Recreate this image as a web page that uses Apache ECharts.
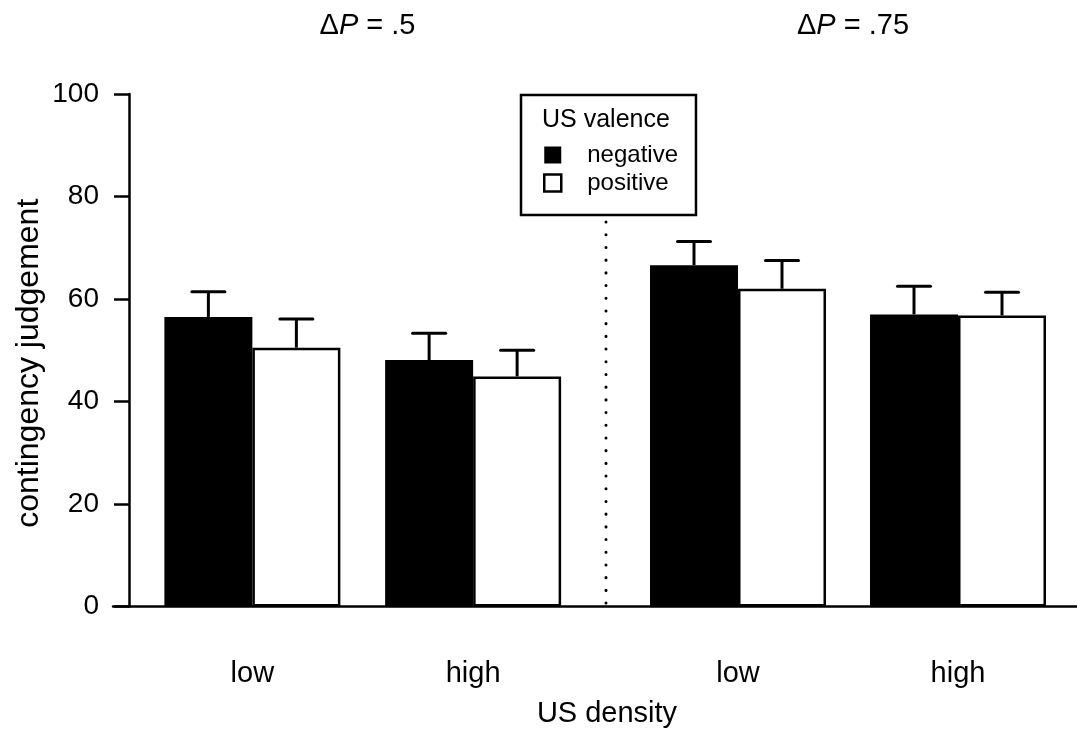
<!DOCTYPE html>
<html>
<head>
<meta charset="utf-8">
<script src="https://cdn.jsdelivr.net/npm/echarts@6/dist/echarts.min.js"></script>
<style>
html,body{margin:0;padding:0;background:#fff;}
#chart{width:1077px;height:729px;}
</style>
</head>
<body>
<div id="chart"></div>
<script>
// ---- data ----
const panelLabels = ['.5', '.75'];               // ΔP values
const densities = ['low', 'high'];                // US density
const valenceNames = ['negative', 'positive'];    // US valence
// order: [ΔP=.5 low, ΔP=.5 high, ΔP=.75 low, ΔP=.75 high]
const negativeMean  = [56.5, 48.1, 66.6, 57.0];
const negativeUpper = [61.4, 53.3, 71.2, 62.5];
const positiveMean  = [50.5, 44.9, 62.0, 56.8];
const positiveUpper = [56.1, 50.0, 67.5, 61.3];
const yMin = 0, yMax = 100, yStep = 20;

// ---- style ----
const FONT = 'Liberation Sans, Arial, Helvetica, sans-serif';
const BAR_W = 88;
const LW = 2.5;

const chart = echarts.init(document.getElementById('chart'), null, {renderer: 'canvas'});

function errorSeries(gridIdx, upper, mean, side) {
  return {
    type: 'custom',
    xAxisIndex: gridIdx, yAxisIndex: gridIdx,
    z: 5,
    silent: true,
    data: upper.map((u, i) => [i, u, mean[i]]),
    renderItem: function (params, api) {
      const cat = api.value(0);
      const top = api.coord([cat, api.value(1)]);
      const base = api.coord([cat, api.value(2)]);
      const x = top[0] + side * BAR_W / 2;
      const cap = 16.5;
      return {
        type: 'group',
        children: [
          {type: 'line', shape: {x1: x, y1: base[1], x2: x, y2: top[1]},
           style: {stroke: '#000', lineWidth: 3}},
          {type: 'line', shape: {x1: x - cap, y1: top[1], x2: x + cap, y2: top[1]},
           style: {stroke: '#000', lineWidth: 3, lineCap: 'round'}}
        ]
      };
    }
  };
}

const grids = [
  {left: 142, width: 441.5, top: 94, height: 512.5},
  {left: 628, width: 440, top: 94, height: 512.5},
  {left: 113, right: 0, top: 94, height: 512.5}
];

const xAxes = [0, 1].map(g => ({
  type: 'category', gridIndex: g, data: densities,
  axisLine: {show: false}, axisTick: {show: false},
  axisLabel: {fontFamily: FONT, fontSize: 29, color: '#000', margin: 53}
}));
xAxes.push({
  type: 'value', gridIndex: 2, min: 0, max: 1,
  axisLine: {show: true, onZero: false, lineStyle: {color: '#000', width: LW}},
  axisTick: {show: false}, axisLabel: {show: false}, splitLine: {show: false}
});

const yAxes = [
  {
    type: 'value', gridIndex: 0, min: yMin, max: yMax, interval: yStep, offset: 13,
    name: 'contingency judgement', nameLocation: 'middle', nameRotate: 90, nameGap: 84,
    nameTextStyle: {fontFamily: FONT, fontSize: 32, color: '#000', padding: [0, 26, 0, 0]},
    axisLine: {show: true, lineStyle: {color: '#000', width: LW}},
    axisTick: {show: true, length: 15, lineStyle: {color: '#000', width: LW}},
    axisLabel: {fontFamily: FONT, fontSize: 28, color: '#000', margin: 30},
    splitLine: {show: false}
  },
  {type: 'value', gridIndex: 1, min: yMin, max: yMax, interval: yStep, show: false, splitLine: {show: false}},
  {type: 'value', gridIndex: 2, min: yMin, max: yMax, show: false, splitLine: {show: false}}
];

const series = [];
[0, 1].forEach(g => {
  const neg = negativeMean.slice(g * 2, g * 2 + 2);
  const pos = positiveMean.slice(g * 2, g * 2 + 2);
  series.push({
    name: valenceNames[0], type: 'bar', xAxisIndex: g, yAxisIndex: g,
    data: neg, barWidth: BAR_W, barGap: '0%',
    itemStyle: {color: '#000', borderColor: '#000', borderWidth: LW}
  });
  series.push({
    name: valenceNames[1], type: 'bar', xAxisIndex: g, yAxisIndex: g,
    data: pos, barWidth: BAR_W, barGap: '0%',
    itemStyle: {color: '#fff', borderColor: '#000', borderWidth: LW}
  });
  series.push(errorSeries(g, negativeUpper.slice(g * 2, g * 2 + 2), neg, -1));
  series.push(errorSeries(g, positiveUpper.slice(g * 2, g * 2 + 2), pos, 1));
});

const titleRich = {
  d: {fontFamily: FONT, fontSize: 29, color: '#000', fontWeight: 'normal'},
  p: {fontFamily: FONT, fontSize: 29, color: '#000', fontStyle: 'italic', fontWeight: 'normal'}
};

chart.setOption({
  animation: false,
  backgroundColor: '#fff',
  title: [
    {text: '{d|Δ}{p|P}{d| = ' + panelLabels[0] + '}', left: 362.5, top: 6, textAlign: 'center',
     textStyle: {fontWeight: 'normal', rich: titleRich}},
    {text: '{d|Δ}{p|P}{d| = ' + panelLabels[1] + '}', left: 848, top: 6, textAlign: 'center',
     textStyle: {fontWeight: 'normal', rich: titleRich}},
    {text: 'US valence', left: 537, top: 103, z: 10,
     textStyle: {fontFamily: FONT, fontSize: 25, fontWeight: 'normal', color: '#000'}},
    {text: 'US density', left: 602, top: 694, textAlign: 'center',
     textStyle: {fontFamily: FONT, fontSize: 29, fontWeight: 'normal', color: '#000'}}
  ],
  legend: {
    orient: 'vertical', left: 521, top: 95,
    padding: [48, 18, 20, 22],
    itemWidth: 17, itemHeight: 17, itemGap: 4,
    borderColor: '#000', borderWidth: LW, backgroundColor: '#fff',
    textStyle: {fontFamily: FONT, fontSize: 24, lineHeight: 24, color: '#000', padding: [0, 0, 0, 21]},
    data: [
      {name: valenceNames[0], icon: 'rect', itemStyle: {color: '#000', borderColor: '#000', borderWidth: 0}},
      {name: valenceNames[1], icon: 'rect', itemStyle: {color: '#fff', borderColor: '#000', borderWidth: 2.5}}
    ]
  },
  grid: grids,
  xAxis: xAxes,
  yAxis: yAxes,
  series: series,
  graphic: [
    {type: 'line', shape: {x1: 606, y1: 222, x2: 606, y2: 604},
     style: {stroke: '#000', lineWidth: 3, lineDash: [0.1, 12.6], lineCap: 'round'}, z: 1}
  ]
});
</script>
</body>
</html>
